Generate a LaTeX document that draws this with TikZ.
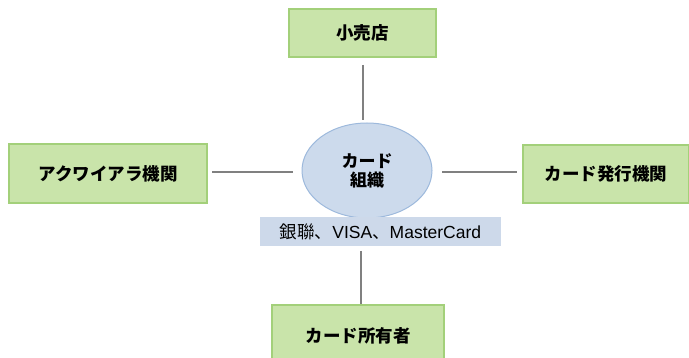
\documentclass[tikz,border=0pt]{standalone}
\usepackage{fontspec}
\usetikzlibrary{shapes.geometric}
\setmainfont{Noto Sans CJK JP}
\newfontfamily\latinsans{Liberation Sans}
\definecolor{boxfill}{HTML}{C9E4AA}
\definecolor{boxline}{HTML}{A3D07A}
\definecolor{ellfill}{HTML}{CCDAEC}
\definecolor{ellline}{HTML}{9DB9DC}
\definecolor{labfill}{HTML}{CDD9EA}
\definecolor{conn}{HTML}{808080}
\begin{document}
\begin{tikzpicture}[x=1pt,y=-1pt,
  party/.style={draw=boxline,fill=boxfill,line width=1.2pt,inner sep=0pt,
    font=\fontsize{17.5}{20}\selectfont\bfseries},
  conline/.style={draw=conn,line width=1.3pt}]
\useasboundingbox (0,0) rectangle (689,358);
\begin{scope}
\clip (0,0) rectangle (689,358);
\node[party,minimum width=147pt,minimum height=48pt] (shop) at (362.5,33) {小売店};
\node[party,minimum width=198pt,minimum height=59pt] (acq) at (108,173.5) {アクワイアラ機関};
\node[party,minimum width=166pt,minimum height=58pt] (iss) at (606,174) {カード発行機関};
\node[party,minimum width=172pt,minimum height=62pt] (own) at (358,336) {カード所有者};
\end{scope}
\node[draw=ellline,fill=ellfill,line width=1pt,ellipse,minimum width=130pt,minimum height=95pt,inner sep=0pt,
  align=center,font=\fontsize{17}{19}\selectfont\bfseries] (org) at (367,170.5) {カード\\組織};
\node[fill=labfill,minimum width=241pt,minimum height=29pt,inner sep=0pt,
  font=\fontsize{17.5}{20}\selectfont] (lab) at (380.5,231.5) {銀聯、{\latinsans VISA}、{\latinsans MasterCard}};
\coordinate (t1) at (363,65); \coordinate (t2) at (363,120);
\coordinate (l1) at (212,172); \coordinate (l2) at (293,172);
\coordinate (r1) at (442,172); \coordinate (r2) at (517,172);
\coordinate (b1) at (361,251); \coordinate (b2) at (361,304);
\draw[conline] (t1) -- (t2);
\draw[conline] (l1) -- (l2);
\draw[conline] (r1) -- (r2);
\draw[conline] (b1) -- (b2);
\end{tikzpicture}
\end{document}
